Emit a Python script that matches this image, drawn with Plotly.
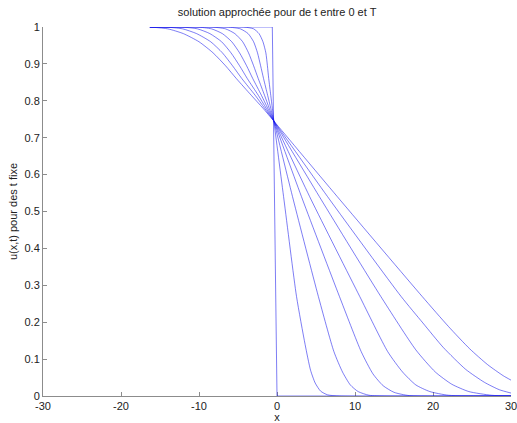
import plotly.graph_objects as go

# t = 0 (initial step)
x_t0 = [-16.3, -0.6, 0.0, 30.0]
u_t0 = [1.0, 1.0, 0.0, 0.0]

x_t1 = [-16.3, -4.3, -3.0, -2.3, -1.8, -1.43, -1.23, -1.06, -0.8, -0.6, -0.4, 0.9, 2.5, 3.6, 4.3, 4.9, 5.6, 6.5, 8.0, 30.0]
u_t1 = [1.0, 1.0, 0.995, 0.982, 0.96, 0.93, 0.895, 0.86, 0.815, 0.78, 0.745, 0.531, 0.27, 0.14, 0.07, 0.035, 0.013, 0.003, 0.0, 0.0]

x_t2 = [-16.3, -6.4, -4.7, -3.7, -3.0, -2.5, -2.1, -1.72, -1.2, -0.8, -0.4, 2.1, 5.3, 7.3, 8.4, 9.4, 10.4, 11.8, 14.0, 30.0]
u_t2 = [1.0, 1.0, 0.995, 0.982, 0.96, 0.93, 0.895, 0.86, 0.815, 0.78, 0.745, 0.531, 0.27, 0.12, 0.065, 0.03, 0.012, 0.002, 0.0, 0.0]

x_t3 = [-16.3, -8.4, -6.6, -5.4, -4.4, -3.65, -3.0, -2.4, -1.6, -1.0, -0.4, 3.3, 8.0, 10.8, 12.3, 13.6, 15.0, 17.0, 30.0]
u_t3 = [1.0, 1.0, 0.995, 0.982, 0.96, 0.93, 0.895, 0.86, 0.815, 0.78, 0.745, 0.531, 0.27, 0.12, 0.06, 0.028, 0.01, 0.001, 0.0]

x_t4 = [-16.3, -10.3, -8.4, -7.0, -5.8, -4.8, -3.9, -3.1, -2.0, -1.2, -0.4, 4.4, 10.6, 14.2, 16.1, 17.8, 19.6, 22.0, 30.0]
u_t4 = [1.0, 1.0, 0.995, 0.982, 0.96, 0.93, 0.895, 0.86, 0.815, 0.78, 0.745, 0.531, 0.27, 0.12, 0.065, 0.03, 0.012, 0.002, 0.0]

x_t5 = [-16.3, -12.3, -10.2, -8.6, -7.1, -5.9, -4.8, -3.8, -2.4, -1.4, -0.4, 5.7, 13.3, 17.8, 20.3, 22.4, 24.6, 27.5, 30.0]
u_t5 = [1.0, 1.0, 0.995, 0.982, 0.96, 0.93, 0.895, 0.86, 0.815, 0.78, 0.745, 0.531, 0.27, 0.125, 0.065, 0.032, 0.012, 0.002, 0.0]

x_t6 = [-16.3, -14.4, -12.1, -10.3, -8.5, -7.0, -5.7, -4.5, -2.8, -1.6, -0.4, 6.8, 15.9, 18.7, 21.3, 24.2, 26.6, 28.5, 30.0]
u_t6 = [1.0, 1.0, 0.995, 0.982, 0.96, 0.93, 0.895, 0.86, 0.815, 0.78, 0.745, 0.531, 0.27, 0.198, 0.132, 0.072, 0.037, 0.017, 0.008]

x_t7 = [-16.3, -14.0, -12.0, -10.0, -8.2, -6.6, -5.2, -3.3, -1.8, -0.4, 8.1, 18.6, 22.0, 24.7, 27.0, 29.0, 30.0]
u_t7 = [1.0, 0.995, 0.982, 0.96, 0.93, 0.895, 0.86, 0.815, 0.78, 0.745, 0.531, 0.27, 0.188, 0.128, 0.085, 0.055, 0.043]

x_ticks = [-30, -20, -10, 0, 10, 20, 30]
y_ticks = [0, 0.1, 0.2, 0.3, 0.4, 0.5, 0.6, 0.7, 0.8, 0.9, 1]
y_ticktext = ["0", "0.1", "0.2", "0.3", "0.4", "0.5", "0.6", "0.7", "0.8", "0.9", "1"]

title_text = "solution approchée pour de t entre 0 et T"
xlabel = "x"
ylabel = "u(x,t) pour des t fixe"

line_color = "rgba(20,20,235,0.55)"
font_family = "Liberation Sans, Arial, sans-serif"

fig = go.Figure()
fig.add_trace(go.Scatter(x=x_t0, y=u_t0, mode="lines",
                         line=dict(color=line_color, width=1)))
for xs, us in [(x_t1, u_t1), (x_t2, u_t2), (x_t3, u_t3), (x_t4, u_t4),
               (x_t5, u_t5), (x_t6, u_t6), (x_t7, u_t7)]:
    fig.add_trace(go.Scatter(x=xs, y=us, mode="lines",
                             line=dict(color=line_color, width=1,
                                       shape="spline", smoothing=0.6)))

axis_common = dict(
    showgrid=False, zeroline=False, showline=True, linecolor="#8c8c8c",
    linewidth=1, ticks="inside", ticklen=4, tickcolor="#8c8c8c",
    tickfont=dict(family=font_family, size=11, color="#222222"),
    layer="below traces", mirror=False, ticklabeloverflow="allow",
)

fig.update_layout(
    width=517, height=423,
    margin=dict(l=43, r=6, t=27, b=27, autoexpand=False),
    paper_bgcolor="white", plot_bgcolor="white",
    showlegend=False,
    font=dict(family=font_family, size=11, color="#222222"),
    title=dict(text=title_text, x=0.536, xanchor="center", y=0.9716,
               yanchor="middle", font=dict(size=11, color="#222222")),
    xaxis=dict(range=[-30.0005, 30.0005], tickvals=x_ticks,
               ticktext=[str(v) for v in x_ticks],
               title=dict(text=xlabel, standoff=2,
                          font=dict(size=11, color="#222222")),
               automargin=False, **axis_common),
    yaxis=dict(range=[0, 1], tickvals=y_ticks, ticktext=y_ticktext,
               title=dict(text=ylabel, standoff=4,
                          font=dict(size=11, color="#222222")),
               automargin=False, **axis_common),
)

fig.write_html("out.html", config={"displayModeBar": False},
               post_script="document.body.style.margin='0px';")
